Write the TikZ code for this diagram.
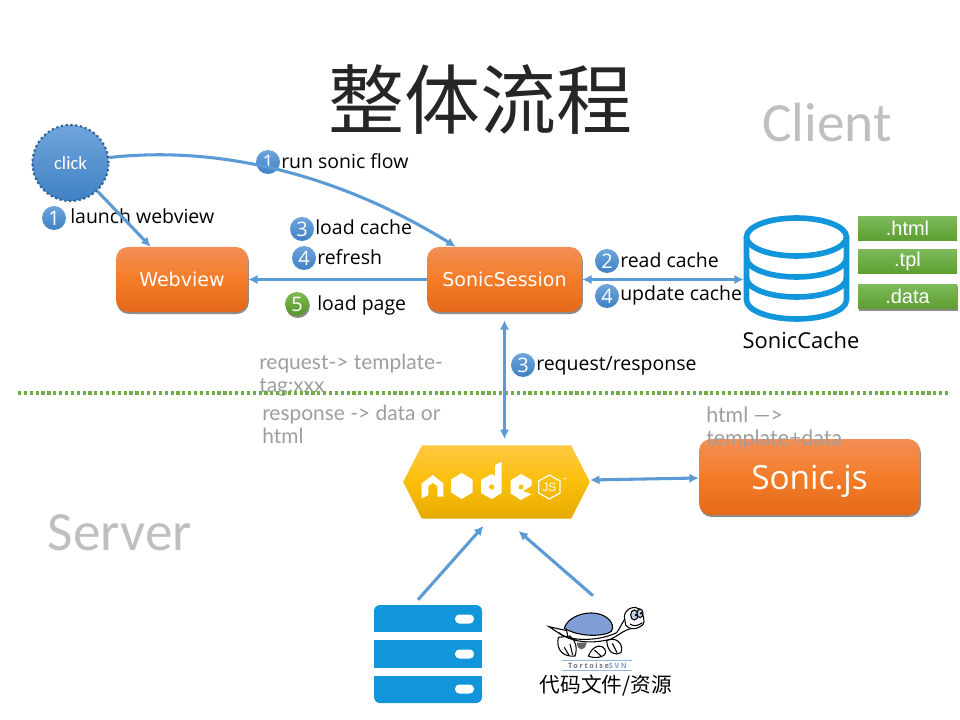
\documentclass[tikz,border=0pt]{standalone}
\usepackage{fontspec}
\usepackage{xcolor}
\setmainfont{DejaVu Sans}
\newfontfamily\titlefont{Noto Sans CJK SC}
\newfontfamily\labelfont{Open Sans}
\newfontfamily\sidefont{Carlito}
\newfontfamily\tagfont{Liberation Sans}
\newfontfamily\notefont{Lato}
\usetikzlibrary{positioning,arrows.meta,shapes,shadows,calc}
\definecolor{arrowblue}{HTML}{5B9BD5}
\definecolor{iconblue}{HTML}{1296DB}
\definecolor{shellblue}{HTML}{7F9FD6}
\definecolor{linegreen}{HTML}{70AD47}
\definecolor{goldmid}{HTML}{FBBF0A}

\begin{document}
\begin{tikzpicture}[
    x=0.75pt, y=-0.75pt,
    softshadow/.style={drop shadow={shadow xshift=0.6pt, shadow yshift=-1.5pt, opacity=.45, fill=black}},
    orangebox/.style={rectangle, rounded corners=9pt, top color={rgb,255:red,243;green,143;blue,86},
                      bottom color={rgb,255:red,228;green,105;blue,26},
                      middle color={rgb,255:red,244;green,124;blue,40}, text=white, softshadow},
    tagbox/.style={rectangle, minimum width=74.25pt, minimum height=18pt, inner sep=0pt, text=white,
                   top color={rgb,255:red,125;green,186;blue,90}, bottom color={rgb,255:red,93;green,158;blue,50},
                   font=\tagfont\fontsize{15}{17}\selectfont},
    badge/.style={circle, minimum size=18pt, inner sep=0pt, text=white, font=\labelfont\fontsize{15}{17}\selectfont,
                  top color={rgb,255:red,110;green,165;blue,220}, bottom color={rgb,255:red,63;green,129;blue,196}},
    greenbadge/.style={badge, top color={rgb,255:red,125;green,186;blue,80}, bottom color={rgb,255:red,84;green,150;blue,40}, softshadow},
    steplabel/.style={inner sep=0pt, anchor=west, font=\labelfont\fontsize{14.6}{17}\selectfont},
    note/.style={inner sep=0pt, anchor=west, align=left, text=black!38, font=\notefont\fontsize{15.7}{17.3}\selectfont},
    side/.style={inner sep=0pt, text=black!25, font=\sidefont\fontsize{41.5}{48}\selectfont},
    arrow/.style={-{Latex[length=7pt,width=7pt]}, line width=2.3pt, arrowblue},
    twoway/.style={{Latex[length=7pt,width=7pt]}-{Latex[length=7pt,width=7pt]}, line width=2.3pt, arrowblue},
    iconline/.style={line width=4.2pt, iconblue},
    logo/.style={fill=white, draw=none},
  ]
    \useasboundingbox[fill=white] (0,0) rectangle (960,720);

    \node[inner sep=0pt, text=black!85, font=\titlefont\fontsize{57}{60}\selectfont] (title) at (480,100) {整体流程};
    \node[side] (client) at (827,122) {Client};
    \node[side] (serverside) at (120,533) {Server};

    \node[note] (reqnote) at (259,375) {request-> template-\\tag:xxx};
    \node[note] (respnote) at (262,424) {response -> data or\\html};
    \draw[line width=2.4pt, dotted, linegreen] (18,393) -- (950,393);

    \node[circle, minimum size=57pt, inner sep=0pt, draw={rgb,255:red,47;green,95;blue,150}, dotted, line width=1.6pt,
          top color={rgb,255:red,112;green,165;blue,220}, bottom color={rgb,255:red,63;green,129;blue,196},
          text=white, font=\sidefont\fontsize{14}{16}\selectfont] (click) at (70.5,163) {click};
    \node[orangebox, minimum width=99pt, minimum height=48.75pt, font=\fontsize{14.3}{17}\selectfont] (webview) at (182,279.5) {Webview};
    \node[orangebox, minimum width=116.25pt, minimum height=48.75pt, font=\fontsize{14.3}{17}\selectfont] (session) at (504.5,279.5) {SonicSession};
    \node[orangebox, minimum width=165.75pt, minimum height=57pt, text depth=0pt, font=\labelfont\fontsize{25}{30}\selectfont] (sonicjs) at (809.5,477) {Sonic.js};
    \node[note, font=\notefont\fontsize{16}{17.3}\selectfont] (htmlnote) at (706,428) {html —>\\template+data};

    \node[signal, signal to=west and east, signal pointer angle=126, minimum width=140pt, minimum height=55pt, inner sep=0pt,
          top color={rgb,255:red,255;green,200;blue,66}, bottom color={rgb,255:red,229;green,171;blue,0},
          middle color=goldmid] (nodejs) at (496.5,482) {};

    % node.js logo
    \fill[logo] (421.7,483.3) -- (432.7,475) -- (443.3,483.3) -- (443.3,496.7) -- (437.3,496.7) -- (437.3,486) -- (432.7,482.7) -- (428.3,486) -- (428.3,495) -- (421.7,498.3) -- cycle;
    \fill[logo] (461.7,473) -- (472.5,479.5) -- (472.5,492.5) -- (461.7,499) -- (451,492.5) -- (451,479.5) -- cycle;
    \fill[logo] (501.7,461.7) -- (501.7,493) -- (491.7,499) -- (481,493) -- (481,480) -- (491.7,474) -- (495,476) -- (495,465) -- cycle;
    \fill[goldmid] (491.7,487) circle (2.6);
    \fill[logo] (521,474) -- (531.5,480) -- (531.5,486) -- (523,491) -- (531.5,494) -- (521,500) -- (510.5,493.5) -- (510.5,480.5) -- cycle;
    \fill[goldmid] (521,487) circle (2.4);
    \draw[white, line width=.9pt] (549.3,475) -- (560,481) -- (560,493) -- (549.3,499) -- (538.7,493) -- (538.7,481) -- cycle;
    \node[inner sep=0pt, text=white, font=\tagfont\fontsize{9}{10}\selectfont] (jsmark) at (549.3,487) {JS};
    \fill[white] (565,478.5) circle (1.1);

    \node[tagbox] (htmltag) at (907.5,228.5) {.html};
    \node[tagbox] (tpltag) at (907.5,261.5) {.tpl};
    \node[tagbox, softshadow] (datatag) at (907.5,296.5) {.data};

    % cache cylinder
    \node[minimum width=78.75pt, minimum height=78.75pt, inner sep=0pt] (cache) at (796.5,269.5) {};
    \draw[iconline] (796.5,237) ellipse (50 and 19);
    \draw[iconline] (746.5,237) -- (746.5,300) arc[start angle=180, end angle=360, x radius=50, y radius=-19] -- (846.5,237);
    \draw[iconline] (746.5,258) arc[start angle=180, end angle=360, x radius=50, y radius=-19];
    \draw[iconline] (746.5,278) arc[start angle=180, end angle=360, x radius=50, y radius=-19];
    \node[inner sep=0pt, font=\labelfont\fontsize{16.4}{19}\selectfont] (cachelabel) at (801,340) {SonicCache};

    % server stack
    \node[minimum width=81pt, minimum height=73.5pt, inner sep=0pt] (server) at (428,654) {};
    \fill[iconblue, rounded corners=4.5pt] (374,605) rectangle (482,622);
    \fill[iconblue] (374,614) rectangle (482,632);
    \fill[iconblue] (374,640) rectangle (482,668);
    \fill[iconblue] (374,676) rectangle (482,692);
    \fill[iconblue, rounded corners=4.5pt] (374,686) rectangle (482,703);
    \foreach \y in {619,654,689} {
      \fill[white, rounded corners=3.2pt] (455,\y-4.5) rectangle (474,\y+4.5);
    }

    % tortoise
    \node[minimum width=75pt, minimum height=45pt, inner sep=0pt] (svn) at (597,633) {};
    \begin{scope}[shift={(535,600)}, x=0.25pt, y=-0.25pt, line width=.8pt]
      \draw[fill=white] (42,80) -- (95,92) -- (100,118) -- cycle;
      \fill[black!60] (125,128) .. controls (128,155) and (150,155) .. (155,128) -- cycle;
      \draw[fill=white] (70,112) .. controls (62,150) and (85,172) .. (120,168) .. controls (128,145) and (122,120) .. (105,108) -- cycle;
      \draw[fill=white] (160,168) .. controls (175,130) and (208,132) .. (212,155) .. controls (212,174) and (175,176) .. (160,168) -- cycle;
      \draw[fill=white] (215,122) .. controls (240,108) and (268,130) .. (258,158) .. controls (240,168) and (218,160) .. (215,122) -- cycle;
      \draw (88,142) -- (102,166) (105,132) -- (113,165) (178,150) -- (198,168) (232,130) -- (246,158);
      \draw[fill=white] (72,98) .. controls (100,125) and (190,125) .. (245,98) .. controls (255,85) and (265,60) .. (275,50) -- (290,85) .. controls (262,92) and (250,108) .. (225,118) .. controls (170,132) and (110,128) .. (72,98) -- cycle;
      \draw[fill=shellblue] (88,85) .. controls (100,40) and (190,20) .. (225,62) .. controls (238,80) and (235,95) .. (218,100) .. controls (180,112) and (120,105) .. (88,85) -- cycle;
      \draw[fill=white] (268,50) .. controls (270,25) and (300,15) .. (315,28) .. controls (325,40) and (330,65) .. (325,72) .. controls (310,90) and (280,90) .. (272,75) -- cycle;
      \draw (285,72) .. controls (295,80) and (310,78) .. (322,68);
      \draw[fill=shellblue!50] (298,45) ellipse (11 and 15);
      \draw[fill=shellblue!50] (315,40) ellipse (9 and 13);
      \fill (303,45) circle (4) (318,40) circle (4);
    \end{scope}
    \node[inner sep=0pt, text=black!55, font={\labelfont\fontsize{5.5}{7}\selectfont\bfseries\addfontfeature{LetterSpace=22}}] (svnmark) at (597.5,665.5) {Tortoise\textcolor{shellblue}{SVN}};
    \draw[shellblue!80, line width=.7pt] (561.5,660.5) -- (631.5,660.5) (561.5,670) -- (631.5,670);
    \node[inner sep=0pt, font=\titlefont\fontsize{15.5}{18}\selectfont] (svnlabel) at (606,686) {代码文件/资源};

    \node[badge] (runbadge) at (268,162) {1};
    \node[steplabel] (runlabel) at (281,161) {run sonic flow};
    \node[badge] (launchbadge) at (54,218) {1};
    \node[steplabel] (launchlabel) at (70,216) {launch webview};
    \node[badge] (loadbadge) at (302,229) {3};
    \node[steplabel] (loadlabel) at (315,227) {load cache};
    \node[badge] (refreshbadge) at (304,258) {4};
    \node[steplabel] (refreshlabel) at (317,257) {refresh};
    \node[greenbadge] (pagebadge) at (297,304) {5};
    \node[steplabel] (pagelabel) at (317,305) {load page};
    \node[badge] (readbadge) at (607,261) {2};
    \node[steplabel] (readlabel) at (620,260) {read cache};
    \node[badge] (updatebadge) at (607,296) {4};
    \node[steplabel] (updatelabel) at (620,295) {update cache};
    \node[badge] (reqbadge) at (523,365) {3};
    \node[steplabel] (reqlabel) at (536,366) {request/response};

    \draw[arrow] (click) -- (webview);
    \draw[arrow] (click.8) .. controls (220,145) and (340,175) .. ($(session.north west)+(29,0)$);
    \draw[arrow] (session) -- (webview);
    \draw[twoway] (session) -- (session -| cache.west);
    \draw[twoway, shorten <=6pt, shorten >=4.5pt] (session.south) -- (session.south |- nodejs.north);
    \draw[twoway] ($(nodejs.east)+(0,-2)$) -- ($(sonicjs.west)+(0,1)$);
    \draw[arrow] ($(server.north)+(-10,-5)$) -- ($(nodejs.south)+(-13,7)$);
    \draw[arrow] ($(svn.north)+(-4,-7)$) -- ($(nodejs.south)+(22,12)$);
  \end{tikzpicture}
\end{document}
